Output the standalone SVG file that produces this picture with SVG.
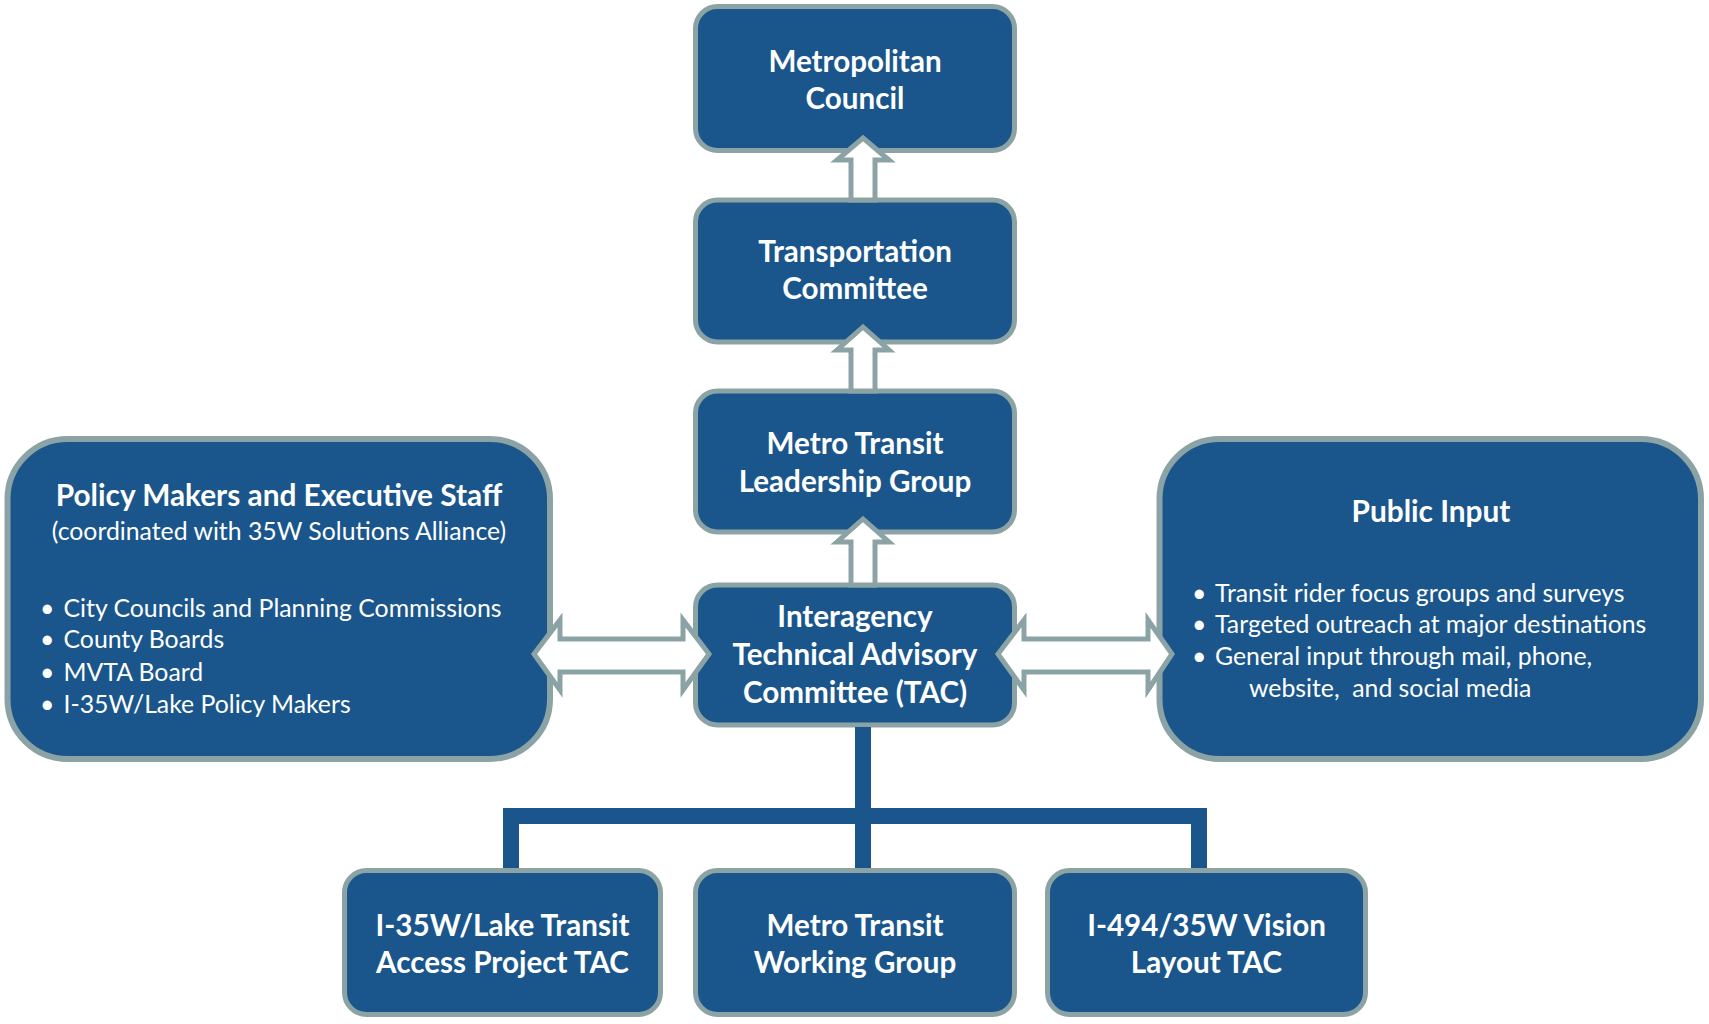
<svg xmlns="http://www.w3.org/2000/svg" width="1709" height="1024" viewBox="0 0 1709 1024">
<style>
.box{fill:#1a568c;stroke:#8ba3a5;stroke-width:5}
.big{fill:#1a568c;stroke:#8ba3a5;stroke-width:6}
.t{font-family:Lato,"Liberation Sans",sans-serif;font-weight:bold;font-size:29.6px;fill:#fff;text-anchor:middle}
.h{font-family:Lato,"Liberation Sans",sans-serif;font-weight:bold;font-size:29.8px;fill:#fff;text-anchor:middle}
.r{font-family:Lato,"Liberation Sans",sans-serif;font-size:24.8px;fill:#fff}
.rc{font-family:Lato,"Liberation Sans",sans-serif;font-size:24.8px;fill:#fff;text-anchor:middle}
.arr{fill:#fff;stroke:#8ba3a5;stroke-width:5;stroke-linejoin:miter}
.ln{fill:none;stroke:#1a568c;stroke-width:16;stroke-linejoin:miter}
</style>
<g id="policy-makers">
<rect class="big" x="7.5" y="439" width="542.5" height="320" rx="60"/>
<text class="h" x="279" y="506">Policy Makers and Executive Staff</text>
<text class="rc" x="279" y="540">(coordinated with 35W Solutions Alliance)</text>
<text class="r" x="40" y="617">•</text><text class="r" x="63.5" y="617">City Councils and Planning Commissions</text>
<text class="r" x="40" y="648">•</text><text class="r" x="63.5" y="648">County Boards</text>
<text class="r" x="40" y="681">•</text><text class="r" x="63.5" y="681">MVTA Board</text>
<text class="r" x="40" y="713">•</text><text class="r" x="63.5" y="713">I-35W/Lake Policy Makers</text>
</g>
<g id="public-input">
<rect class="big" x="1159.5" y="439" width="541.5" height="320" rx="60"/>
<text class="h" x="1431" y="522">Public Input</text>
<text class="r" x="1192" y="602">•</text><text class="r" x="1215" y="602">Transit rider focus groups and surveys</text>
<text class="r" x="1192" y="633">•</text><text class="r" x="1215" y="633">Targeted outreach at major destinations</text>
<text class="r" x="1192" y="665">•</text><text class="r" x="1215" y="665">General input through mail, phone,</text>
<text class="r" x="1249" y="697">website,&#160; and social media</text>
</g>
<g id="metropolitan-council">
<rect class="box" x="695.5" y="6.5" width="319" height="144" rx="22"/>
<text class="t" x="855" y="72">Metropolitan</text>
<text class="t" x="855" y="109">Council</text>
</g>
<g id="transportation-committee">
<rect class="box" x="695.5" y="200" width="319" height="142" rx="22"/>
<text class="t" x="855" y="262">Transportation</text>
<text class="t" x="855" y="299">Committee</text>
</g>
<g id="leadership-group">
<rect class="box" x="695.5" y="391" width="319" height="141" rx="22"/>
<text class="t" x="855" y="454">Metro Transit</text>
<text class="t" x="855" y="492">Leadership Group</text>
</g>
<g id="tac">
<rect class="box" x="695.5" y="585" width="319" height="140" rx="22"/>
<text class="t" x="855" y="627">Interagency</text>
<text class="t" x="855" y="665">Technical Advisory</text>
<text class="t" x="855" y="703">Committee (TAC)</text>
</g>
<g id="lake-tac">
<rect class="box" x="344.5" y="870.5" width="316" height="144" rx="22"/>
<text class="t" x="502.5" y="936">I-35W/Lake Transit</text>
<text class="t" x="502.5" y="973">Access Project TAC</text>
</g>
<g id="working-group">
<rect class="box" x="695.5" y="870.5" width="319" height="144" rx="22"/>
<text class="t" x="855" y="936">Metro Transit</text>
<text class="t" x="855" y="973">Working Group</text>
</g>
<g id="vision-tac">
<rect class="box" x="1047.5" y="870.5" width="318" height="144" rx="22"/>
<text class="t" x="1206.5" y="936">I-494/35W Vision</text>
<text class="t" x="1206.5" y="973">Layout TAC</text>
</g>
<g id="connectors">
<path class="ln" d="M863,727 V868"/>
<path class="ln" d="M511,868 V816 H1199 V868"/>
<polygon class="arr" points="863,138 889,160 875,160 875,200 851,200 851,160 837,160"/>
<polygon class="arr" points="863,327 889,350 875,350 875,391 851,391 851,350 837,350"/>
<polygon class="arr" points="863,519 889,542 875,542 875,585 851,585 851,542 837,542"/>
<polygon class="arr" points="534,654 560,620 560,639 683,639 683,620 709,654 683,690 683,672 560,672 560,690"/>
<polygon class="arr" points="998,654 1024,620 1024,639 1148,639 1148,620 1172,654 1148,690 1148,672 1024,672 1024,690"/>
</g>
</svg>
